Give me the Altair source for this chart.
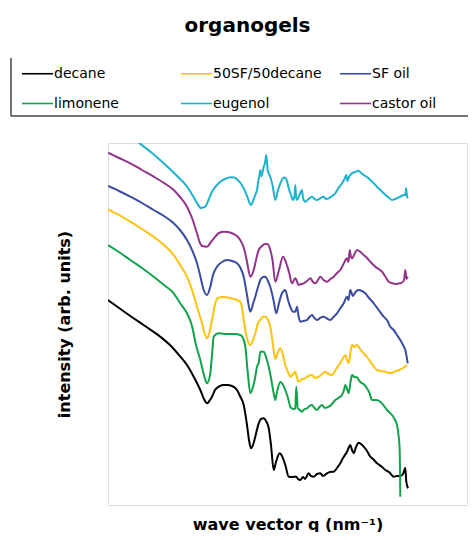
import altair as alt
import pandas as pd

# legend order is column-major in a 3-column legend: rows read decane, 50SF/50decane, SF oil / limonene, eugenol, castor oil
series_names = ["decane", "limonene", "50SF/50decane", "eugenol", "SF oil", "castor oil"]
series_colors = ["#000000", "#12A24A", "#FFC20E", "#1DB2CF", "#3A4BA0", "#93348C"]

decane_q = [0, 0.11, 0.223, 0.37, 0.523, 0.64, 0.723, 0.79, 0.857, 0.923, 0.96, 0.99, 1.02, 1.04, 1.07, 1.107, 1.15, 1.19, 1.24, 1.29, 1.32, 1.357, 1.39, 1.41, 1.43, 1.45, 1.473, 1.507, 1.53, 1.557, 1.58, 1.607, 1.63, 1.657, 1.68, 1.717, 1.74, 1.773, 1.807, 1.84, 1.883, 1.90, 1.923, 1.95, 1.97, 2.007, 2.03, 2.057, 2.09, 2.123, 2.15, 2.19, 2.22, 2.257, 2.29, 2.323, 2.35, 2.39, 2.41, 2.423, 2.44, 2.457, 2.48, 2.507, 2.53, 2.557, 2.59, 2.623, 2.65, 2.69, 2.73, 2.773, 2.81, 2.857, 2.89, 2.923, 2.95, 2.973, 2.983, 3.00]
decane_i = [2.05, 1.97, 1.89, 1.79, 1.683, 1.58, 1.483, 1.40, 1.283, 1.15, 1.06, 1.017, 1.05, 1.083, 1.15, 1.183, 1.20, 1.20, 1.19, 1.15, 1.09, 1.00, 0.80, 0.65, 0.567, 0.60, 0.683, 0.817, 0.86, 0.867, 0.84, 0.77, 0.60, 0.35, 0.43, 0.517, 0.49, 0.40, 0.283, 0.28, 0.283, 0.26, 0.25, 0.28, 0.26, 0.317, 0.29, 0.283, 0.31, 0.317, 0.29, 0.317, 0.33, 0.333, 0.37, 0.417, 0.47, 0.533, 0.58, 0.60, 0.55, 0.517, 0.58, 0.623, 0.61, 0.583, 0.54, 0.483, 0.46, 0.417, 0.39, 0.35, 0.33, 0.283, 0.29, 0.29, 0.31, 0.37, 0.233, 0.167]

limonene_q = [0, 0.11, 0.223, 0.34, 0.457, 0.56, 0.657, 0.72, 0.79, 0.84, 0.88, 0.923, 0.96, 0.99, 1.023, 1.04, 1.057, 1.107, 1.19, 1.27, 1.323, 1.35, 1.373, 1.40, 1.423, 1.45, 1.473, 1.49, 1.507, 1.523, 1.557, 1.58, 1.607, 1.63, 1.657, 1.673, 1.69, 1.723, 1.745, 1.773, 1.80, 1.823, 1.85, 1.873, 1.883, 1.897, 1.92, 1.94, 1.965, 1.99, 2.015, 2.04, 2.065, 2.09, 2.115, 2.14, 2.17, 2.207, 2.24, 2.273, 2.305, 2.34, 2.36, 2.373, 2.39, 2.407, 2.425, 2.44, 2.465, 2.49, 2.515, 2.54, 2.565, 2.59, 2.615, 2.64, 2.68, 2.723, 2.76, 2.79, 2.82, 2.84, 2.87, 2.89, 2.905, 2.917, 2.92, 2.923]
limonene_i = [2.60, 2.53, 2.45, 2.37, 2.283, 2.20, 2.117, 2.02, 1.917, 1.79, 1.60, 1.45, 1.30, 1.217, 1.317, 1.50, 1.683, 1.717, 1.71, 1.71, 1.70, 1.67, 1.583, 1.30, 1.117, 1.18, 1.283, 1.383, 1.42, 1.533, 1.533, 1.48, 1.383, 1.27, 1.117, 1.05, 1.13, 1.23, 1.21, 1.15, 1.07, 0.983, 0.96, 0.967, 1.183, 0.967, 0.95, 0.933, 0.96, 0.967, 0.99, 1.00, 0.97, 0.95, 0.98, 1.00, 0.97, 0.983, 1.01, 1.05, 1.07, 1.10, 1.15, 1.20, 1.16, 1.117, 1.23, 1.30, 1.28, 1.277, 1.24, 1.217, 1.20, 1.167, 1.12, 1.05, 1.05, 1.033, 0.99, 0.95, 0.92, 0.90, 0.85, 0.80, 0.70, 0.55, 0.35, 0.083]

sf50_q = [0, 0.11, 0.223, 0.34, 0.457, 0.56, 0.657, 0.72, 0.79, 0.84, 0.89, 0.94, 0.965, 0.99, 1.015, 1.04, 1.073, 1.10, 1.15, 1.223, 1.29, 1.323, 1.34, 1.357, 1.39, 1.423, 1.45, 1.473, 1.50, 1.523, 1.55, 1.573, 1.60, 1.623, 1.65, 1.673, 1.70, 1.723, 1.75, 1.773, 1.80, 1.823, 1.85, 1.873, 1.89, 1.907, 1.94, 1.973, 2.005, 2.04, 2.07, 2.107, 2.14, 2.173, 2.205, 2.24, 2.275, 2.307, 2.34, 2.373, 2.39, 2.407, 2.425, 2.44, 2.465, 2.49, 2.52, 2.557, 2.59, 2.623, 2.655, 2.69, 2.73, 2.773, 2.81, 2.84, 2.87, 2.907, 2.95, 2.99]
sf50_i = [2.957, 2.90, 2.833, 2.76, 2.683, 2.60, 2.50, 2.40, 2.283, 2.15, 1.983, 1.817, 1.72, 1.667, 1.73, 1.85, 2.017, 2.07, 2.08, 2.07, 2.05, 2.03, 1.97, 1.85, 1.67, 1.60, 1.65, 1.717, 1.82, 1.85, 1.883, 1.883, 1.85, 1.78, 1.60, 1.46, 1.53, 1.567, 1.50, 1.40, 1.33, 1.283, 1.31, 1.333, 1.27, 1.233, 1.26, 1.267, 1.29, 1.30, 1.27, 1.283, 1.31, 1.333, 1.31, 1.30, 1.35, 1.40, 1.45, 1.50, 1.45, 1.417, 1.53, 1.60, 1.58, 1.60, 1.56, 1.517, 1.48, 1.433, 1.39, 1.35, 1.34, 1.333, 1.32, 1.323, 1.335, 1.35, 1.37, 1.40]

sfoil_q = [0, 0.11, 0.223, 0.34, 0.457, 0.56, 0.657, 0.72, 0.79, 0.84, 0.89, 0.925, 0.957, 0.99, 1.023, 1.05, 1.09, 1.14, 1.19, 1.24, 1.29, 1.325, 1.357, 1.39, 1.423, 1.45, 1.473, 1.50, 1.523, 1.55, 1.573, 1.595, 1.623, 1.655, 1.683, 1.71, 1.74, 1.773, 1.80, 1.823, 1.85, 1.873, 1.89, 1.905, 1.923, 1.955, 1.99, 2.015, 2.04, 2.065, 2.09, 2.12, 2.157, 2.19, 2.223, 2.255, 2.29, 2.325, 2.357, 2.39, 2.405, 2.423, 2.45, 2.475, 2.507, 2.54, 2.573, 2.61, 2.657, 2.70, 2.757, 2.79, 2.823, 2.857, 2.89, 2.923, 2.95, 2.973, 2.997]
sfoil_i = [3.19, 3.14, 3.083, 3.02, 2.95, 2.89, 2.817, 2.75, 2.65, 2.55, 2.417, 2.28, 2.15, 2.10, 2.183, 2.30, 2.383, 2.43, 2.45, 2.44, 2.417, 2.37, 2.283, 2.10, 1.933, 2.01, 2.083, 2.18, 2.25, 2.28, 2.283, 2.25, 2.18, 2.05, 1.917, 2.02, 2.117, 2.15, 2.05, 1.98, 1.933, 1.933, 1.983, 1.89, 1.833, 1.84, 1.85, 1.88, 1.90, 1.87, 1.85, 1.87, 1.883, 1.865, 1.85, 1.88, 1.917, 1.97, 2.017, 2.083, 2.05, 2.15, 2.09, 2.13, 2.15, 2.14, 2.117, 2.07, 2.017, 1.96, 1.883, 1.85, 1.783, 1.75, 1.70, 1.65, 1.60, 1.55, 1.417]

castor_q = [0, 0.11, 0.223, 0.34, 0.457, 0.56, 0.657, 0.72, 0.79, 0.84, 0.89, 0.92, 0.94, 0.99, 1.03, 1.073, 1.11, 1.157, 1.20, 1.257, 1.30, 1.34, 1.37, 1.39, 1.423, 1.457, 1.48, 1.507, 1.53, 1.573, 1.595, 1.623, 1.645, 1.673, 1.71, 1.75, 1.783, 1.81, 1.84, 1.873, 1.907, 1.93, 1.957, 1.99, 2.023, 2.05, 2.073, 2.10, 2.123, 2.155, 2.19, 2.225, 2.257, 2.29, 2.323, 2.355, 2.39, 2.405, 2.417, 2.43, 2.44, 2.465, 2.49, 2.525, 2.557, 2.59, 2.623, 2.673, 2.74, 2.77, 2.807, 2.84, 2.873, 2.905, 2.94, 2.96, 2.973, 2.985, 2.997]
castor_i = [3.523, 3.47, 3.417, 3.35, 3.283, 3.22, 3.15, 3.08, 2.983, 2.87, 2.717, 2.62, 2.59, 2.583, 2.63, 2.683, 2.72, 2.733, 2.73, 2.71, 2.68, 2.617, 2.53, 2.433, 2.283, 2.35, 2.45, 2.55, 2.58, 2.61, 2.61, 2.55, 2.45, 2.233, 2.35, 2.483, 2.417, 2.33, 2.217, 2.267, 2.20, 2.21, 2.217, 2.24, 2.267, 2.23, 2.217, 2.25, 2.283, 2.25, 2.233, 2.26, 2.283, 2.32, 2.35, 2.41, 2.467, 2.43, 2.55, 2.48, 2.467, 2.51, 2.55, 2.53, 2.50, 2.47, 2.433, 2.383, 2.333, 2.29, 2.233, 2.22, 2.21, 2.215, 2.223, 2.25, 2.35, 2.26, 2.283]

eugenol_q = [0, 0.14, 0.307, 0.44, 0.557, 0.67, 0.79, 0.85, 0.89, 0.93, 0.973, 1.005, 1.04, 1.08, 1.123, 1.17, 1.223, 1.26, 1.29, 1.325, 1.357, 1.39, 1.43, 1.45, 1.473, 1.49, 1.505, 1.513, 1.523, 1.535, 1.557, 1.57, 1.583, 1.597, 1.623, 1.645, 1.673, 1.70, 1.723, 1.765, 1.79, 1.807, 1.83, 1.85, 1.865, 1.873, 1.88, 1.89, 1.915, 1.94, 1.95, 1.973, 2.005, 2.04, 2.065, 2.09, 2.12, 2.157, 2.18, 2.207, 2.24, 2.273, 2.305, 2.34, 2.365, 2.383, 2.395, 2.41, 2.44, 2.47, 2.507, 2.53, 2.557, 2.59, 2.623, 2.655, 2.69, 2.725, 2.757, 2.80, 2.84, 2.87, 2.89, 2.925, 2.957, 2.975, 2.98, 2.99, 2.997]
eugenol_i = [3.87, 3.75, 3.623, 3.52, 3.417, 3.31, 3.183, 3.09, 3.02, 2.97, 2.983, 3.05, 3.133, 3.19, 3.233, 3.26, 3.277, 3.275, 3.257, 3.22, 3.167, 3.09, 3.00, 3.04, 3.10, 3.15, 3.25, 3.283, 3.35, 3.29, 3.383, 3.42, 3.50, 3.35, 3.28, 3.20, 3.05, 3.15, 3.217, 3.275, 3.24, 3.167, 3.10, 3.05, 3.09, 3.20, 3.09, 3.05, 3.10, 3.15, 3.07, 3.033, 3.06, 3.083, 3.06, 3.05, 3.065, 3.083, 3.06, 3.067, 3.09, 3.117, 3.17, 3.217, 3.26, 3.30, 3.24, 3.28, 3.317, 3.33, 3.343, 3.32, 3.30, 3.28, 3.25, 3.22, 3.183, 3.15, 3.117, 3.08, 3.05, 3.06, 3.067, 3.085, 3.10, 3.10, 3.167, 3.09, 3.067]

series_data = [
    ("decane", decane_q, decane_i),
    ("50SF/50decane", sf50_q, sf50_i),
    ("SF oil", sfoil_q, sfoil_i),
    ("limonene", limonene_q, limonene_i),
    ("eugenol", eugenol_q, eugenol_i),
    ("castor oil", castor_q, castor_i),
]

rows = []
for name, qs, its in series_data:
    for k, (q, v) in enumerate(zip(qs, its)):
        rows.append({"series": name, "q": q, "I": v, "idx": k})
df = pd.DataFrame(rows)

FONT = "DejaVu Sans"

lines = alt.Chart(df).mark_line(strokeWidth=2, clip=True, interpolate="monotone").encode(
    x=alt.X("q:Q",
            scale=alt.Scale(domain=[0, 3.59], nice=False, zero=False),
            axis=alt.Axis(title="wave vector q (nm⁻¹)", labels=False, ticks=False, domain=False,
                          grid=False, titleFont=FONT, titleFontSize=16, titleFontWeight="bold",
                          titleColor="#000000", titlePadding=11)),
    y=alt.Y("I:Q",
            scale=alt.Scale(domain=[0, 3.62], nice=False, zero=False),
            axis=alt.Axis(title="intensity (arb. units)", labels=False, ticks=False, domain=False,
                          grid=False, titleFont=FONT, titleFontSize=16, titleFontWeight="bold",
                          titleColor="#000000", titlePadding=36)),
    color=alt.Color("series:N",
                    scale=alt.Scale(domain=series_names, range=series_colors),
                    sort=series_names,
                    legend=alt.Legend(title=None, orient="none", legendX=-87, legendY=-86,
                                      columns=3, gridAlign="all", columnPadding=14, rowPadding=6,
                                      symbolType="stroke", symbolSize=961, symbolStrokeWidth=1.6,
                                      labelFont=FONT, labelFontSize=14, labelColor="#000000",
                                      labelOffset=0, labelLimit=300, padding=0)),
    order="idx:Q",
)

frame = pd.DataFrame({"k": [0]})
box_left = alt.Chart(frame).mark_rule(color="#444444", strokeWidth=1.5).encode(
    x=alt.value(-97), y=alt.value(-85), y2=alt.value(-27))
box_bottom = alt.Chart(frame).mark_rule(color="#444444", strokeWidth=1.5).encode(
    x=alt.value(-97), x2=alt.value(380), y=alt.value(-27))

chart = alt.layer(box_left, box_bottom, lines).properties(
    width=359, height=362,
    title=alt.TitleParams("organogels", font=FONT, fontSize=20, fontWeight="bold",
                          color="#000000", anchor="middle", offset=21, dx=-40),
    autosize=alt.AutoSizeParams(type="none"),
    padding={"left": 100, "top": 135, "right": 1, "bottom": 27},
).configure_view(stroke="#555555", strokeWidth=1.5).configure(background="white")

chart.save("out.html", embed_options={"renderer": "svg", "actions": False})
